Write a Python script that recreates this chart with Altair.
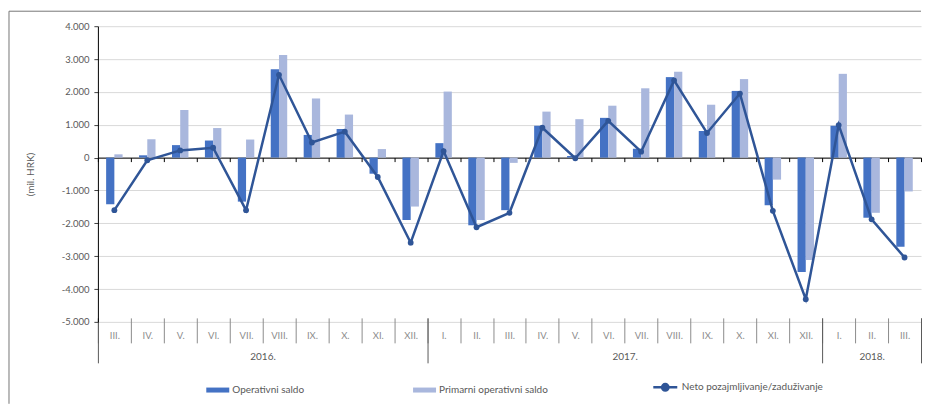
import altair as alt
import pandas as pd

# ---------------- data ----------------
months = ["III.", "IV.", "V.", "VI.", "VII.", "VIII.", "IX.", "X.", "XI.", "XII.",
          "I.", "II.", "III.", "IV.", "V.", "VI.", "VII.", "VIII.", "IX.", "X.", "XI.", "XII.",
          "I.", "II.", "III."]
year_names = ["2016.", "2017.", "2018."]
year_counts = [10, 12, 3]

operativni = [-1420, 70, 380, 520, -1340, 2690, 690, 870, -490, -1900,
              440, -2060, -1600, 970, 50, 1210, 270, 2450, 810, 2030, -1450, -3480,
              970, -1830, -2710]
primarni = [100, 560, 1450, 900, 550, 3120, 1800, 1310, 260, -1490,
            2010, -1900, -160, 1400, 1170, 1580, 2110, 2610, 1610, 2390, -670, -3120,
            2550, -1680, -1030]
neto = [-1600, -80, 220, 300, -1600, 2520, 460, 790, -590, -2590,
        200, -2120, -1680, 910, -20, 1120, 180, 2350, 750, 1950, -1620, -4310,
        990, -1880, -3040]

series_names = ["Operativni saldo", "Primarni operativni saldo"]
line_name = "Neto pozajmljivanje/zaduživanje"
y_ticks = [-5000, -4000, -3000, -2000, -1000, 0, 1000, 2000, 3000, 4000]

# ---------------- tables ----------------
years = []
for yn, c in zip(year_names, year_counts):
    years += [yn] * c
keys = [f"{y}|{m}" for y, m in zip(years, months)]
n = len(keys)

bar_rows = []
for k, o, p in zip(keys, operativni, primarni):
    bar_rows.append({"key": k, "series": series_names[0], "value": o})
    bar_rows.append({"key": k, "series": series_names[1], "value": p})
bars_df = pd.DataFrame(bar_rows)
line_df = pd.DataFrame({"key": keys, "neto": neto, "name": line_name})

starts, ends = [], []
acc = 0
for c in year_counts:
    starts.append(acc)
    acc += c
    ends.append(acc)
year_df = pd.DataFrame({"year": year_names, "start": starts, "end": ends})
bounds = starts + [ends[-1]]
mids = [(s + e) / 2 for s, e in zip(starts, ends)]
year_expr = "''"
for m, yn in reversed(list(zip(mids, year_names))):
    year_expr = f"datum.value == {m} ? '{yn}' : ({year_expr})"

# ---------------- style ----------------
DARK = "#4472C4"
LIGHT = "#A9B7DD"
LINE = "#2F5597"
FONT = "Lato"
W, H = 824, 296
ZERO_OFF = -(H - H * 4000 / 9000)

y_axis = alt.Axis(values=y_ticks, grid=True, gridColor="#D9D9D9", domainColor="#000000",
                  tickColor="#404040", tickSize=4, labelPadding=5, labelFontSize=9.5,
                  labelColor="#595959", labelFont=FONT,
                  labelExpr="(datum.value < 0 ? '-' : '') + replace(format(abs(datum.value), ','), ',', '.')",
                  title="(mil. HRK)", titleFont=FONT, titleFontSize=10, titleFontWeight="normal",
                  titleColor="#595959", titlePadding=26)
y_scale = alt.Scale(domain=[-5000, 4000], nice=False)

x_scale = alt.Scale(domain=keys, paddingInner=0, paddingOuter=0)
x_axis = alt.Axis(orient="bottom", offset=-4, tickBand="extent", tickSize=25, tickColor="#8C8C8C",
                  domain=False, grid=False, labelExpr="split(datum.value, '|')[1]", labelAngle=0,
                  labelPadding=-7, labelBaseline="middle", labelColor="#8C8C8C", labelFontSize=9.5,
                  labelFont=FONT, labelOverlap=False, title=None)

RECT_PATH = "M-1,-0.217H1V0.217H-1Z"
LINE_PATH = "M-1,0H1M0.27,0A0.27,0.27,0,1,1,-0.27,0A0.27,0.27,0,1,1,0.27,0"

bars = alt.Chart(bars_df).mark_bar().encode(
    x=alt.X("key:N", sort=keys, scale=x_scale, axis=x_axis),
    xOffset=alt.XOffset("series:N", sort=series_names,
                        scale=alt.Scale(domain=series_names, paddingInner=0, paddingOuter=1)),
    y=alt.Y("value:Q", scale=y_scale, axis=y_axis),
    color=alt.Color("series:N", sort=series_names,
                    scale=alt.Scale(domain=series_names, range=[DARK, LIGHT]),
                    legend=alt.Legend(orient="none", legendX=108.5, legendY=352.5, direction="horizontal",
                                      title=None, symbolType=RECT_PATH, symbolSize=529,
                                      symbolStrokeWidth=0, symbolOpacity=1, labelFont=FONT,
                                      labelFontSize=10, labelColor="#595959", labelOffset=3,
                                      columnPadding=108, padding=0)),
)

line = alt.Chart(line_df).mark_line(strokeWidth=2.5).encode(
    x=alt.X("key:N", sort=keys, scale=x_scale, axis=x_axis),
    y=alt.Y("neto:Q", scale=y_scale, axis=y_axis),
    stroke=alt.Stroke("name:N", scale=alt.Scale(domain=[line_name], range=[LINE]),
                      legend=alt.Legend(orient="none", legendX=554.5, legendY=348, title=None,
                                        symbolType=LINE_PATH, symbolSize=576, symbolStrokeWidth=2.5,
                                        symbolFillColor=LINE, labelFont=FONT, labelFontSize=10,
                                        labelColor="#595959", labelOffset=3, padding=0)),
)

points = alt.Chart(line_df).mark_circle(size=34, color=LINE, opacity=1).encode(
    x=alt.X("key:N", sort=keys, scale=x_scale, axis=x_axis),
    y=alt.Y("neto:Q", scale=y_scale, axis=y_axis),
)

main = alt.layer(bars, line, points)

q_scale = alt.Scale(domain=[0, n], nice=False, zero=False)

year_ticks = alt.Chart(year_df).mark_rule(opacity=0).encode(
    x=alt.X("start:Q", scale=q_scale,
            axis=alt.Axis(orient="bottom", offset=-4, values=bounds, tickSize=45, tickColor="#595959",
                          labels=False, domain=False, grid=False, title=None)),
)

year_labels = alt.Chart(year_df).transform_calculate(mid="(datum.start + datum.end) / 2").mark_rule(opacity=0).encode(
    x=alt.X("mid:Q", scale=q_scale,
            axis=alt.Axis(orient="bottom", offset=-4, values=mids, ticks=False, domain=False, grid=False,
                          labelExpr=year_expr, labelPadding=39, labelBaseline="middle",
                          labelFlush=False, labelOverlap=False, labelColor="#595959",
                          labelFontSize=10, labelFont=FONT, title=None)),
)

zero_axis = alt.Chart(year_df).mark_rule(opacity=0).encode(
    x=alt.X("end:Q", scale=q_scale,
            axis=alt.Axis(orient="bottom", offset=ZERO_OFF, values=list(range(n + 1)), tickSize=4,
                          tickColor="#000000", domainColor="#000000", labels=False, grid=False,
                          title=None)),
)

frame_df = pd.DataFrame({"f": [0]})
frame_left = alt.Chart(frame_df).mark_rule(color="#767676", strokeWidth=1).encode(
    x=alt.value(-89), y=alt.value(-15), y2=alt.value(H + 82))
frame_top = alt.Chart(frame_df).mark_rule(color="#767676", strokeWidth=1).encode(
    x=alt.value(-89), x2=alt.value(W), y=alt.value(-15))

chart = alt.layer(main, year_ticks, year_labels, zero_axis, frame_left, frame_top).resolve_scale(
    x="independent"
).properties(
    width=W, height=H, padding={"left": 0, "top": 2, "right": 0, "bottom": 0}, background="white"
).configure_view(stroke=None)

chart.save("out.html", embed_options={"renderer": "svg", "actions": False})
